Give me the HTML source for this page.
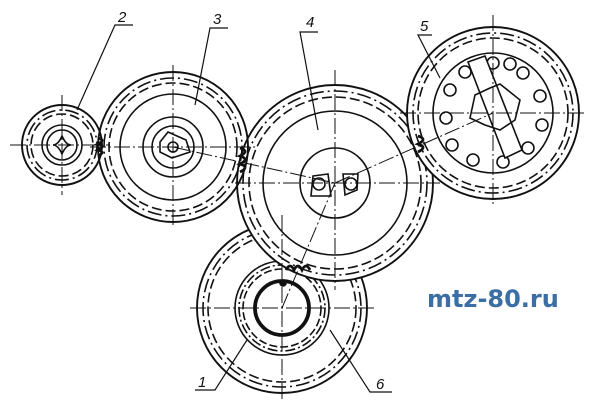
<!DOCTYPE html>
<html><head><style>body{margin:0;background:#fff}svg{display:block}</style></head><body>
<svg width="600" height="410" viewBox="0 0 600 410" xmlns="http://www.w3.org/2000/svg" font-family="Liberation Sans, sans-serif">
<rect width="600" height="410" fill="#fff"/>
<g fill="none" stroke="#111" stroke-width="1.6">
<!-- gear 6 -->
<circle cx="282" cy="308" r="85" stroke-width="1.9"/>
<circle cx="282" cy="308" r="79" stroke-dasharray="14 4 2 4"/>
<circle cx="282" cy="308" r="74" stroke-dasharray="10 4"/>
<circle cx="282" cy="308" r="47"/>
<circle cx="282" cy="308" r="43" stroke-dasharray="10 3 2 3"/>
<circle cx="282" cy="308" r="39" stroke-dasharray="8 3"/>
<circle cx="282" cy="308" r="27" stroke-width="3.8"/>
<circle cx="283" cy="283" r="3" fill="#111"/>
<!-- gear 4 -->
<circle cx="335" cy="183" r="98" fill="#fff" stroke-width="1.9"/>
<circle cx="335" cy="183" r="92" stroke-dasharray="14 4 2 4"/>
<circle cx="335" cy="183" r="86" stroke-dasharray="10 4"/>
<circle cx="335" cy="183" r="72"/>
<circle cx="335" cy="183" r="35"/>
<path d="M313 176 L328 174 L331 196 L311 196 Z"/>
<circle cx="319" cy="184" r="6"/>
<path d="M343 174 L358 174 L357 190 L345 195 Z"/>
<circle cx="351" cy="184" r="6"/>
<!-- gear 3 -->
<circle cx="173" cy="147" r="75" stroke-width="1.9"/>
<circle cx="173" cy="147" r="69" stroke-dasharray="14 4 2 4"/>
<circle cx="173" cy="147" r="64" stroke-dasharray="10 4"/>
<circle cx="173" cy="147" r="53"/>
<circle cx="173" cy="147" r="30"/>
<circle cx="173" cy="147" r="21"/>
<path d="M160 142 L168 132 L186 140 L190 152 L172 158 L160 152 Z"/>
<circle cx="173" cy="147" r="5"/>
<!-- gear 2 -->
<circle cx="62" cy="145" r="40" stroke-width="1.9"/>
<circle cx="62" cy="145" r="35" stroke-dasharray="14 4 2 4"/>
<circle cx="62" cy="145" r="31" stroke-dasharray="10 4"/>
<circle cx="62" cy="145" r="20"/>
<circle cx="62" cy="145" r="15"/>
<path d="M62 136 Q66 145 71 145 Q66 145 62 154 Q58 145 53 145 Q58 145 62 136Z"/>
<!-- gear 5 -->
<circle cx="493" cy="113" r="86" fill="#fff" stroke-width="1.9"/>
<circle cx="493" cy="113" r="80" stroke-dasharray="14 4 2 4"/>
<circle cx="493" cy="113" r="75" stroke-dasharray="10 4"/>
<circle cx="493" cy="113" r="60"/>
<circle cx="493" cy="63" r="6"/><circle cx="523" cy="73" r="6"/><circle cx="540" cy="96" r="6"/>
<circle cx="542" cy="125" r="6"/><circle cx="528" cy="148" r="6"/><circle cx="503" cy="162" r="6"/>
<circle cx="473" cy="160" r="6"/><circle cx="452" cy="145" r="6"/><circle cx="446" cy="118" r="6"/>
<circle cx="450" cy="90" r="6"/><circle cx="465" cy="72" r="6"/><circle cx="510" cy="64" r="6"/>
<path d="M468 62 L485 56 L522 150 L505 158 Z" fill="#fff"/>
<path d="M475 95 L490 88 L500 84 L510 92 L520 100 L515 120 L500 130 L485 125 L470 118 Z"/>
<!-- teeth marks -->
<path d="M98 138 q8 2 0 6 q8 2 0 6 q8 2 0 6" stroke-width="2.8"/>
<path d="M240 148 q10 3 0 8 q10 3 0 8 q10 3 0 8" stroke-width="2.8"/>
<path d="M418 136 q10 3 0 8 q10 3 0 8" stroke-width="2.8"/>
<path d="M286 270 q4 -8 8 0 q4 -8 8 0 q4 -8 8 0" stroke-width="2.8"/>
</g>
<g stroke="#111" stroke-width="1" fill="none" stroke-dasharray="16 3 2 3">
<line x1="10" y1="145" x2="110" y2="145"/><line x1="62" y1="95" x2="62" y2="195"/>
<line x1="90" y1="147" x2="255" y2="147"/><line x1="173" y1="65" x2="173" y2="228"/>
<line x1="235" y1="183" x2="440" y2="183"/><line x1="335" y1="70" x2="335" y2="290"/>
<line x1="190" y1="308" x2="375" y2="308"/><line x1="282" y1="215" x2="282" y2="402"/>
<line x1="400" y1="113" x2="585" y2="113"/><line x1="493" y1="15" x2="493" y2="205"/>
<line x1="173" y1="147" x2="335" y2="183"/><line x1="335" y1="183" x2="493" y2="113"/>
<line x1="335" y1="183" x2="282" y2="308"/>
</g>
<g stroke="#111" stroke-width="1.2" fill="none">
<path d="M133 25 L115 25 L77 110"/>
<path d="M228 28 L210 28 L195 105"/>
<path d="M318 32 L300 32 L318 130"/>
<path d="M432 35 L418 35 L440 78"/>
<path d="M195 390 L215 390 L247 340"/>
<path d="M392 392 L370 392 L330 330"/>
</g>
<g font-style="italic" font-size="15" fill="#111">
<text x="118" y="22">2</text><text x="213" y="24">3</text><text x="306" y="27">4</text>
<text x="420" y="31">5</text><text x="198" y="387">1</text><text x="376" y="389">6</text>
</g>
<text x="427" y="307" font-family="DejaVu Sans, sans-serif" font-weight="bold" font-size="24" fill="#3a6ea5">mtz-80.ru</text>
</svg>
</body></html>
